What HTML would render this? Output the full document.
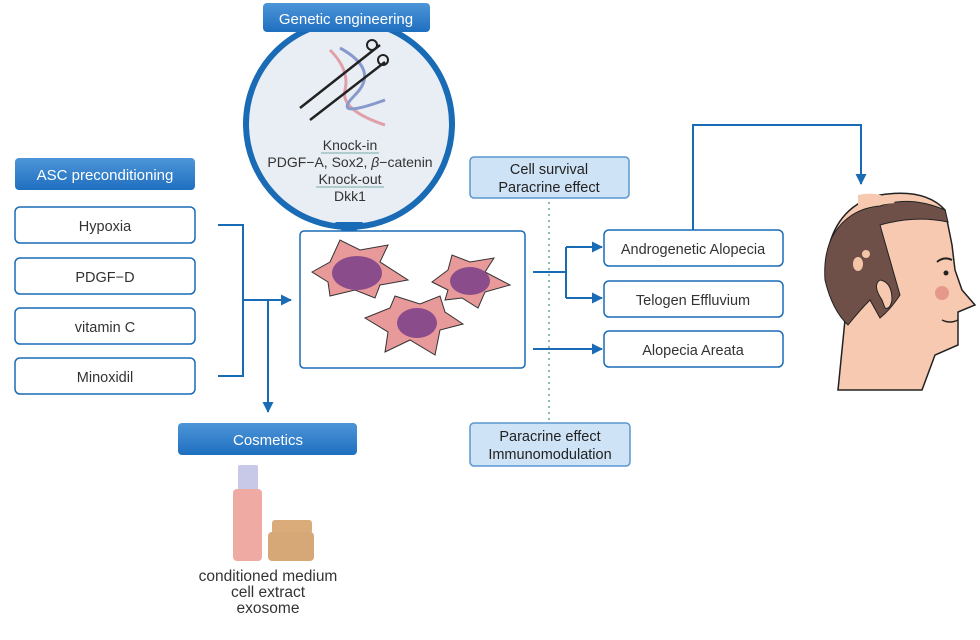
<!DOCTYPE html>
<html><head><meta charset="utf-8"><style>
body{margin:0;background:#fff;}
svg text{font-family:"Liberation Sans",sans-serif;}
</style></head><body>
<svg width="980" height="635" viewBox="0 0 980 635" xmlns="http://www.w3.org/2000/svg">
<defs>
<linearGradient id="lab" x1="0" y1="0" x2="0" y2="1"><stop offset="0" stop-color="#4d95d8"/><stop offset="1" stop-color="#1f6fc0"/></linearGradient>
<marker id="ar" markerWidth="11" markerHeight="11" refX="10" refY="5.5" orient="auto" markerUnits="userSpaceOnUse"><path d="M0,0 L11,5.5 L0,11z" fill="#1a6bb5"/></marker>
</defs>
<!-- ASC -->
<rect x="15" y="158" width="180" height="32" rx="4" fill="url(#lab)"/>
<text x="105" y="180" fill="#fff" font-size="15" text-anchor="middle">ASC preconditioning</text>
<g fill="#fff" stroke="#1a6bb5" stroke-width="1.5">
<rect x="15" y="207" width="180" height="36" rx="5"/>
<rect x="15" y="258" width="180" height="36" rx="5"/>
<rect x="15" y="308" width="180" height="36" rx="5"/>
<rect x="15" y="358" width="180" height="36" rx="5"/>
</g>
<g font-size="14.5" fill="#333" text-anchor="middle">
<text x="105" y="231">Hypoxia</text><text x="105" y="282">PDGF−D</text>
<text x="105" y="332">vitamin C</text><text x="105" y="382">Minoxidil</text>
</g>
<g stroke="#1a6bb5" stroke-width="2" fill="none">
<path d="M218 225 H243 V376 H218"/>
<path d="M243 300 H291" marker-end="url(#ar)"/>
<path d="M268 300 V412" marker-end="url(#ar)"/>
<path d="M533 272 H566 M566 247 V298"/>
<path d="M566 247 H602" marker-end="url(#ar)"/>
<path d="M566 298 H602" marker-end="url(#ar)"/>
<path d="M533 349 H602" marker-end="url(#ar)"/>
<path d="M693 230 V125 H861 V184" marker-end="url(#ar)"/>
</g>
<line x1="549" y1="196" x2="549" y2="420" stroke="#6a8" stroke-width="1.5" stroke-dasharray="2,4"/>
<!-- Genetic circle -->
<circle cx="349" cy="124" r="103" fill="#e9eef4" stroke="#1a6bb5" stroke-width="6"/>
<path d="M335 222 L349 240 L363 222z" fill="#1a6bb5"/>
<rect x="263" y="3" width="167" height="29" rx="4" fill="url(#lab)"/>
<text x="346" y="24" fill="#fff" font-size="15" text-anchor="middle">Genetic engineering</text>
<g fill="none" stroke-width="3">
<path d="M330 50 Q350 70 345 90 Q340 110 385 125" stroke="#e0a0a8"/>
<path d="M340 48 Q380 70 355 95 Q330 120 385 100" stroke="#8899cc"/>
<path d="M300 108 L380 45 M310 120 L385 62" stroke="#222" stroke-width="2.5"/>
<circle cx="372" cy="45" r="5" stroke="#222" stroke-width="2"/><circle cx="383" cy="60" r="5" stroke="#222" stroke-width="2"/>
</g>
<g font-size="14" fill="#333" text-anchor="middle">
<text x="350" y="150">Knock-in</text>
<text x="350" y="167">PDGF−A, Sox2, <tspan font-style="italic">β</tspan>−catenin</text>
<text x="350" y="184">Knock-out</text>
<text x="350" y="201">Dkk1</text>
</g>
<line x1="321" y1="153" x2="379" y2="153" stroke="#7aa" stroke-width="1"/>
<line x1="316" y1="187" x2="384" y2="187" stroke="#7aa" stroke-width="1"/>
<!-- cell box -->
<rect x="300" y="231" width="225" height="137" rx="4" fill="#fff" stroke="#1a6bb5" stroke-width="1.5"/>
<g fill="#e8999a" stroke="#333" stroke-width="1">
<path d="M312 272 L330 262 L340 240 L360 250 L388 245 L380 262 L408 280 L380 285 L375 298 L355 290 L330 296 L328 282z"/>
<path d="M432 282 L448 270 L452 255 L470 262 L494 258 L485 272 L510 285 L485 292 L478 308 L462 298 L445 300 L448 290z"/>
<path d="M365 318 L390 308 L395 296 L420 304 L440 296 L445 312 L463 324 L440 330 L435 355 L410 340 L385 352 L388 332z"/>
</g>
<g fill="#8b4c8c"><ellipse cx="357" cy="273" rx="25" ry="17"/><ellipse cx="470" cy="281" rx="20" ry="14"/><ellipse cx="417" cy="323" rx="20" ry="15"/></g>
<!-- labels mid -->
<rect x="470" y="157" width="159" height="41" rx="4" fill="#cfe3f7" stroke="#5a96d0" stroke-width="1.5"/>
<text x="549" y="174" font-size="14.5" fill="#222" text-anchor="middle">Cell survival</text>
<text x="549" y="192" font-size="14.5" fill="#222" text-anchor="middle">Paracrine effect</text>
<rect x="470" y="423" width="160" height="43" rx="4" fill="#cfe3f7" stroke="#5a96d0" stroke-width="1.5"/>
<text x="550" y="441" font-size="14.5" fill="#222" text-anchor="middle">Paracrine effect</text>
<text x="550" y="459" font-size="14.5" fill="#222" text-anchor="middle">Immunomodulation</text>
<!-- right boxes -->
<g fill="#fff" stroke="#1a6bb5" stroke-width="1.5">
<rect x="604" y="230" width="179" height="36" rx="5"/>
<rect x="604" y="281" width="179" height="36" rx="5"/>
<rect x="604" y="331" width="179" height="36" rx="5"/>
</g>
<g font-size="14.5" fill="#333" text-anchor="middle">
<text x="693" y="254">Androgenetic Alopecia</text>
<text x="693" y="305">Telogen Effluvium</text>
<text x="693" y="355">Alopecia Areata</text>
</g>
<!-- cosmetics -->
<rect x="178" y="423" width="179" height="32" rx="4" fill="url(#lab)"/>
<text x="268" y="445" fill="#fff" font-size="15" text-anchor="middle">Cosmetics</text>
<rect x="238" y="465" width="20" height="25" rx="2" fill="#c8c8e8"/>
<rect x="233" y="489" width="29" height="72" rx="4" fill="#f0aaa4"/>
<rect x="272" y="520" width="40" height="14" rx="3" fill="#d9ac7a"/>
<rect x="268" y="532" width="46" height="29" rx="4" fill="#d7a877"/>
<g font-size="15.5" fill="#333" text-anchor="middle">
<text x="268" y="581">conditioned medium</text><text x="268" y="597">cell extract</text><text x="268" y="613">exosome</text>
</g>
<!-- head -->
<path d="M838 390 L845 320 Q825 290 828 250 Q838 205 880 195 Q925 188 945 210 L952 245 L955 270 L962 290 L975 305 L958 312 L958 345 L935 355 L922 390z" fill="#f7c9b0" stroke="#222" stroke-width="1.5"/>
<path d="M825 280 Q822 235 852 215 Q865 207 880 206 Q910 195 945 210 L948 222 Q915 215 880 225 Q890 260 900 295 Q890 310 880 318 L870 300 Q860 310 848 325 Q832 310 825 280z" fill="#6e5048" stroke="#222" stroke-width="1"/>
<path d="M858 195 Q880 190 895 203 Q875 205 858 210z" fill="#f7c9b0"/>
<ellipse cx="858" cy="264" rx="5" ry="7" fill="#f3c6a8"/><ellipse cx="866" cy="254" rx="4" ry="4" fill="#f3c6a8"/>
<path d="M882 300 Q872 285 880 280 Q892 282 892 300 Q890 310 885 308z" fill="#f7c9b0" stroke="#222" stroke-width="1"/>
<circle cx="942" cy="293" r="7" fill="#e6988a"/>
<circle cx="946" cy="273" r="2.5" fill="#222"/>
<path d="M937 262 Q944 256 952 260" stroke="#222" stroke-width="2" fill="none"/>
<path d="M942 320 Q950 324 958 320" stroke="#222" stroke-width="1.5" fill="none"/>
</svg>
</body></html>
